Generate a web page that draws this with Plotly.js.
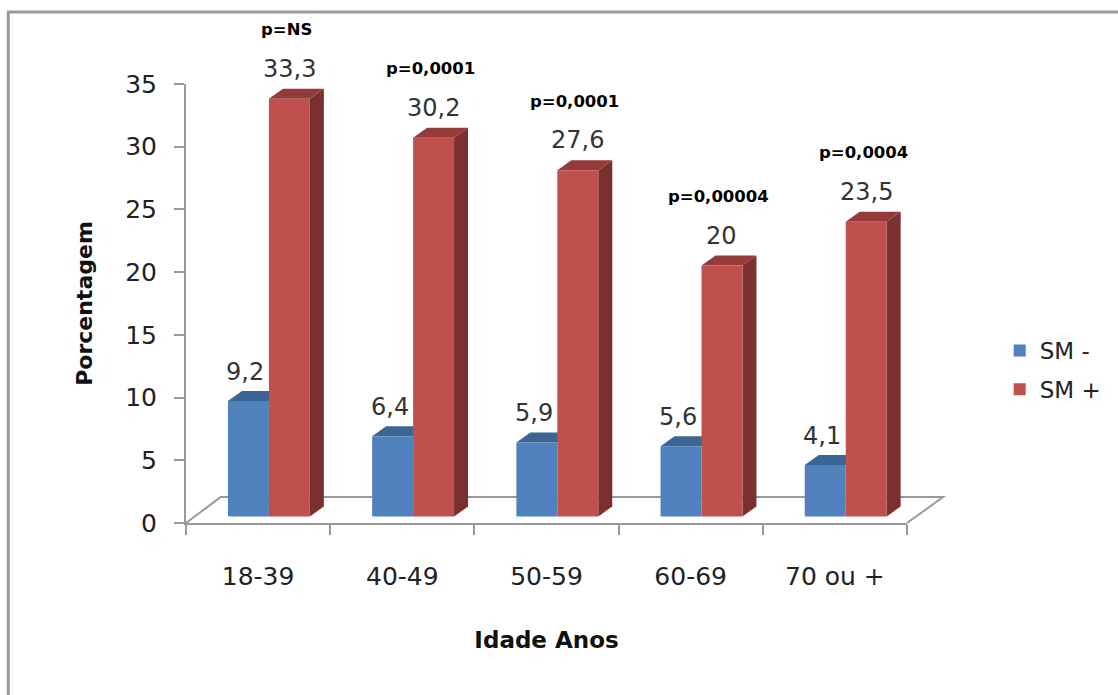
<!DOCTYPE html>
<html>
<head>
<meta charset="utf-8">
<script src="https://cdn.plot.ly/plotly-3.0.1.min.js"></script>
<style>html,body{margin:0;padding:0;background:#fff;}#chart{width:1118px;height:695px;}</style>
</head>
<body>
<div id="chart"></div>
<script>
const categories = ['18-39', '40-49', '50-59', '60-69', '70 ou +'];
const smMinus = [9.2, 6.4, 5.9, 5.6, 4.1];
const smPlus = [33.3, 30.2, 27.6, 20, 23.5];
const pValues = ['p=NS', 'p=0,0001', 'p=0,0001', 'p=0,00004', 'p=0,0004'];
const seriesNames = ['SM -', 'SM +'];
const yTicks = [0, 5, 10, 15, 20, 25, 30, 35];

const FONT = 'DejaVu Sans';
const blue = '#4F81BD', blueTop = '#3B6592';
const red = '#C0504D', redTop = '#943B39', redSide = '#7A302E';
const w = 0.284;          // bar width in category units
const dx = 0.097, dy = 0.8; // 3D depth offsets (x units, y units)
const idx = categories.map((c, i) => i);
const fmt = v => String(v).replace('.', ',');

const traces = [
  {type: 'scatter', x: categories, y: categories.map(() => 0), xaxis: 'x', yaxis: 'y',
   mode: 'markers', marker: {opacity: 0}, showlegend: false, hoverinfo: 'skip'},
  {type: 'bar', name: seriesNames[0], x: idx, y: smMinus, xaxis: 'x2', yaxis: 'y2',
   width: w, offset: -w, marker: {color: blue}, legendgroup: 'a'},
  {type: 'bar', name: seriesNames[1], x: idx, y: smPlus, xaxis: 'x2', yaxis: 'y2',
   width: w, offset: 0, marker: {color: red}, legendgroup: 'b'}
];

const shapes = [];
// frame
shapes.push({type: 'rect', xref: 'paper', yref: 'paper', x0: -0.2465, x1: 1.6, y0: -1, y1: 1.164,
  line: {color: '#999', width: 3}, fillcolor: 'rgba(0,0,0,0)', layer: 'below'});
// floor
shapes.push({type: 'path', xref: 'paper', yref: 'paper', layer: 'below',
  path: 'M0,0 L0.048,0.059 L1.05,0.059 L1,0', line: {color: '#999', width: 2}});
idx.forEach(i => {
  const b = smMinus[i], r = smPlus[i];
  shapes.push({type: 'path', xref: 'x2', yref: 'y2', layer: 'below', line: {width: 0}, fillcolor: blueTop,
    path: `M${i - w},${b} L${i - w + dx},${b + dy} L${i + dx},${b + dy} L${i},${b} Z`});
  shapes.push({type: 'path', xref: 'x2', yref: 'y2', layer: 'below', line: {width: 0}, fillcolor: redSide,
    path: `M${i + w},0 L${i + w + dx},${dy} L${i + w + dx},${r + dy} L${i + w},${r} Z`});
  shapes.push({type: 'path', xref: 'x2', yref: 'y2', layer: 'below', line: {width: 0}, fillcolor: redTop,
    path: `M${i},${r} L${i + dx},${r + dy} L${i + w + dx},${r + dy} L${i + w},${r} Z`});
});

const annotations = [];
idx.forEach(i => {
  annotations.push({xref: 'x2', yref: 'y2', x: i - w / 2, y: smMinus[i], text: fmt(smMinus[i]),
    showarrow: false, yshift: 29, xshift: -3, font: {family: FONT, size: 24, color: '#333'}});
  annotations.push({xref: 'x2', yref: 'y2', x: i + w / 2, y: smPlus[i], text: fmt(smPlus[i]),
    showarrow: false, yshift: 30, font: {family: FONT, size: 24, color: '#333'}});
  annotations.push({xref: 'x2', yref: 'y2', x: i + w / 2, y: smPlus[i], text: '<b>' + pValues[i] + '</b>',
    showarrow: false, yshift: 69, xshift: -3, font: {family: FONT, size: 16.5, color: '#000'}});
});

const layout = {
  width: 1118, height: 695,
  margin: {l: 186, r: 210, t: 84, b: 172},
  paper_bgcolor: '#fff', plot_bgcolor: 'rgba(0,0,0,0)',
  showlegend: true,
  legend: {x: 1.127, y: 0.442, xanchor: 'left', yanchor: 'top', traceorder: 'grouped', tracegroupgap: 6,
    font: {family: FONT, size: 23, color: '#222'}},
  xaxis: {type: 'category', categoryarray: categories, range: [-0.5, 4.5], showline: true, linecolor: '#999',
    linewidth: 2, ticks: 'outside', ticklen: 10, tickcolor: '#999', tickwidth: 2, tickson: 'boundaries',
    showgrid: false, zeroline: false, ticklabelstandoff: 30, fixedrange: true,
    tickfont: {family: FONT, size: 25, color: '#222'},
    title: {text: '<b>Idade Anos</b>', standoff: 42, font: {family: FONT, size: 23, color: '#111'}}},
  yaxis: {range: [0, 35], tickvals: yTicks, showline: true, linecolor: '#999', linewidth: 2,
    ticks: 'outside', ticklen: 10, tickcolor: '#999', tickwidth: 2, showgrid: false, zeroline: false,
    ticklabelstandoff: 12, tickfont: {family: FONT, size: 25, color: '#222'},
    title: {text: '<b>Porcentagem</b>', standoff: 26, font: {family: FONT, size: 22, color: '#111'}}},
  xaxis2: {overlaying: 'x', range: [-0.575, 4.425], visible: false, fixedrange: true},
  yaxis2: {overlaying: 'y', range: [-0.52, 34.48], visible: false, fixedrange: true},
  shapes: shapes,
  annotations: annotations
};

Plotly.newPlot('chart', traces, layout, {displayModeBar: false, staticPlot: true});
</script>
</body>
</html>
